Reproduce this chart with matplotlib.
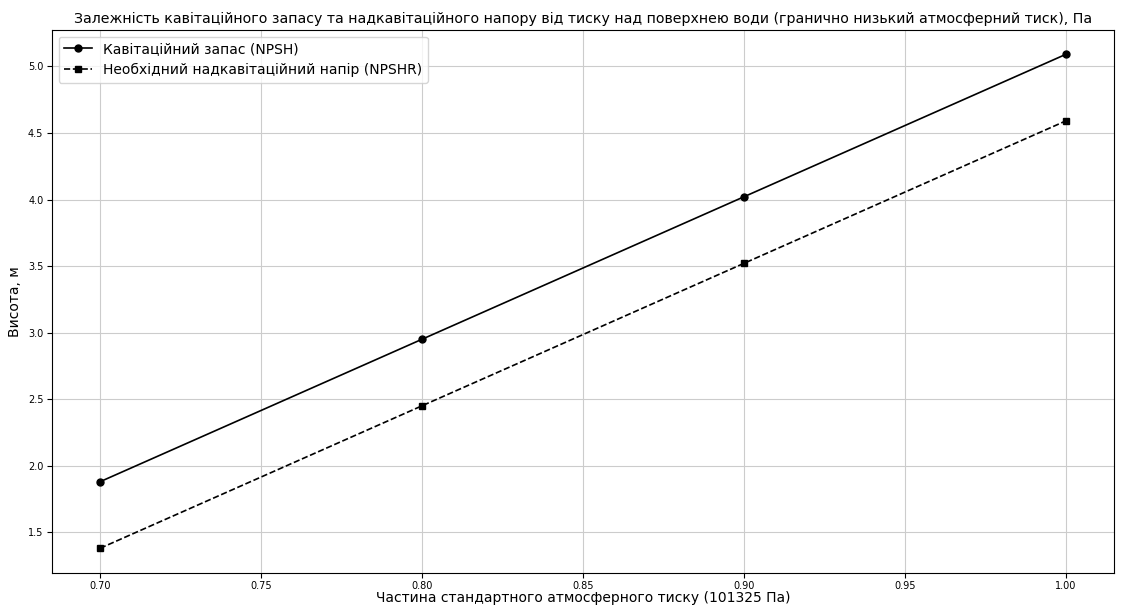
import matplotlib
matplotlib.use("Agg")
import matplotlib.pyplot as plt

plt.rcParams["font.family"] = "DejaVu Sans"

fraction = [0.7, 0.8, 0.9, 1.0]
npsh = [1.88, 2.95, 4.02, 5.09]
npshr = [1.38, 2.45, 3.52, 4.59]

fig, ax = plt.subplots(figsize=(11.24, 6.07), dpi=100)
ax.plot(fraction, npsh, color="black", marker="o", markersize=5, linewidth=1.2,
        label="Кавітаційний запас (NPSH)")
ax.plot(fraction, npshr, color="black", marker="s", markersize=5, linewidth=1.2,
        linestyle="--", label="Необхідний надкавітаційний напір (NPSHR)")
ax.set_title("Залежність кавітаційного запасу та надкавітаційного напору від тиску над поверхнею води "
             "(гранично низький атмосферний тиск), Па", fontsize=10.2, pad=5)
ax.set_xlabel("Частина стандартного атмосферного тиску (101325 Па)", fontsize=10, labelpad=0)
ax.set_ylabel("Висота, м", fontsize=10)
ax.tick_params(labelsize=7, pad=2.5)
ax.grid(True, color="#cccccc", linewidth=0.8)
ax.legend(loc="upper left", fontsize=10)
fig.subplots_adjust(left=0.046, right=0.991, top=0.951, bottom=0.056)
fig.savefig("out.png", dpi=100)
